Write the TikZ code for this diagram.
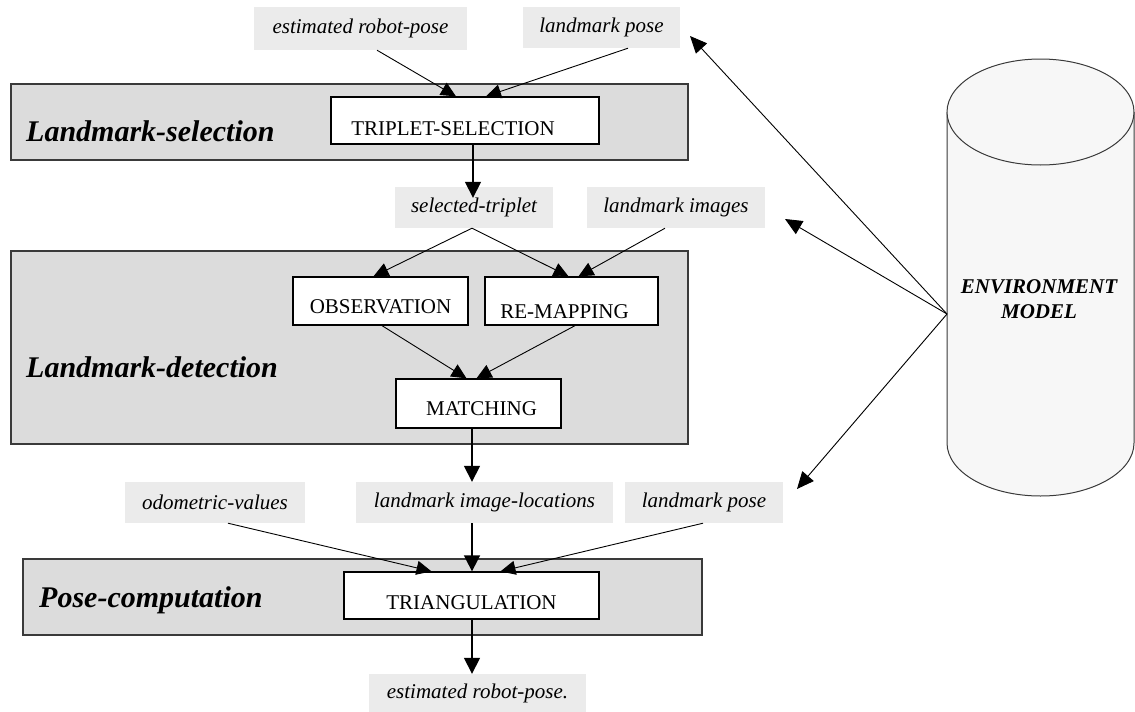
\documentclass[tikz,border=0pt]{standalone}
\usepackage{fontspec}
\setmainfont{Liberation Serif}
\usetikzlibrary{arrows.meta,calc}
\definecolor{stagefill}{HTML}{DCDCDC}
\definecolor{stageline}{HTML}{3A3A3A}
\definecolor{tagfill}{HTML}{EBEBEB}
\definecolor{drumfill}{HTML}{F7F7F7}
% shift the contents of a box without changing its size
\newcommand{\nudge}[3]{\raisebox{#2}[\height][\depth]{\hspace*{#1}#3\hspace*{-#1}}}

\begin{document}
\begin{tikzpicture}[x=1pt,y=-1pt,
  stage/.style={draw=stageline, line width=1.6pt, fill=stagefill, inner sep=0pt},
  stagetitle/.style={font=\fontsize{30}{34}\selectfont\bfseries\itshape, inner sep=0pt, anchor=base west},
  procbox/.style={draw=black, line width=1.3pt, fill=white, inner sep=0pt,
                  font=\fontsize{21}{24}\selectfont},
  tag/.style={fill=tagfill, inner sep=0pt, font=\fontsize{21}{24}\selectfont\itshape},
  flow/.style={line width=0.9pt, -{Triangle[length=15pt,width=14pt]}},
  mainflow/.style={line width=1.6pt, -{Triangle[length=16pt,width=16pt]}},
  envflow/.style={line width=0.9pt, -{Triangle[length=17pt,width=15pt]}},
]
\useasboundingbox (0,0) rectangle (1135,712);

% processing stages
\node[stage, minimum width=677pt, minimum height=76pt]  (selstage) at (349.5,122)   {};
\node[stage, minimum width=677pt, minimum height=193pt] (detstage) at (349.5,347.5) {};
\node[stage, minimum width=679pt, minimum height=76pt]  (posestage) at (362.5,597)  {};

\node[stagetitle] (seltitle)  at (26,141) {Landmark-selection};
\node[stagetitle] (dettitle)  at (26,377) {Landmark-detection};
\node[stagetitle] (posetitle) at (39,607) {Pose-computation};

% process boxes
\node[procbox, minimum width=268pt, minimum height=47pt] (triplet) at (465,120.5)   {\nudge{-12pt}{-8pt}{TRIPLET-SELECTION}};
\node[procbox, minimum width=175pt, minimum height=48pt] (obs)     at (380.5,301)   {\nudge{0pt}{-6pt}{OBSERVATION}};
\node[procbox, minimum width=173pt, minimum height=48pt] (remap)   at (571.5,301)   {\nudge{-7pt}{-11pt}{RE-MAPPING}};
\node[procbox, minimum width=165pt, minimum height=49pt] (match)   at (478.5,403.5) {\nudge{3pt}{-5.5pt}{MATCHING}};
\node[procbox, minimum width=255pt, minimum height=47pt] (tri)     at (471.5,595.5) {\nudge{0pt}{-7.5pt}{TRIANGULATION}};

% data items
\node[tag, minimum width=213pt, minimum height=43pt] (est1)    at (360.5,28.5)  {estimated robot-pose};
\node[tag, minimum width=157pt, minimum height=41pt] (lpose1)  at (601.5,27.5)  {landmark pose};
\node[tag, minimum width=158pt, minimum height=41pt] (seltrip) at (474,207.5)   {selected-triplet};
\node[tag, minimum width=178pt, minimum height=41pt] (limg)    at (676,207.5)   {landmark images};
\node[tag, minimum width=180pt, minimum height=41pt] (odo)     at (215,502.5)   {odometric-values};
\node[tag, minimum width=257pt, minimum height=41pt] (lil)     at (484.5,502.5) {landmark image-locations};
\node[tag, minimum width=158pt, minimum height=41pt] (lpose2)  at (704,502.5)   {landmark pose};
\node[tag, minimum width=217pt, minimum height=38pt] (est2)    at (477.5,693)   {estimated robot-pose.};

% environment model store
\filldraw[fill=drumfill, draw=stageline, line width=1pt]
  (947,112) -- (947,443)
  .. controls (947,472.3) and (988.9,496) .. (1040.5,496)
  .. controls (1092.1,496) and (1134,472.3) .. (1134,443) -- (1134,112);
\filldraw[fill=drumfill, draw=stageline, line width=1pt]
  (1040.5,112) ellipse [x radius=93.5, y radius=53];
\node[font=\fontsize{21}{25}\selectfont\bfseries\itshape, align=center, inner sep=0pt]
  (env) at (1039,299) {ENVIRONMENT\\MODEL};

% landmark selection
\draw[flow] ($(est1.south)+(16.5,0)$)   -- ($(triplet.north)+(-9,0)$);
\draw[flow] ($(lpose1.south)+(26.5,0)$) -- ($(triplet.north)+(21,0)$);
\draw[mainflow] ($(triplet.south)+(8,0)$) -- ($(seltrip.north)+(-1,11)$);

% landmark detection
\draw[flow] ($(seltrip.south)+(-2,0)$) -- ($(obs.north)+(-7,0)$);
\draw[flow] ($(seltrip.south)+(-2,0)$) -- ($(remap.north)+(-3,0)$);
\draw[flow] ($(limg.south)+(-11,0)$)   -- ($(remap.north)+(7,0)$);
\draw[flow] ($(obs.south)+(1.5,0)$)    -- ($(match.north)+(-12,0)$);
\draw[flow] ($(remap.south)+(3.5,0)$)  -- ($(match.north)+(-2,0)$);
\draw[mainflow] ($(match.south)+(-6.5,0)$) -- ($(lil.north)+(-12.5,0)$);

% pose computation
\draw[flow] ($(odo.south)+(13,0)$)     -- ($(tri.north)+(-40,0)$);
\draw[mainflow] ($(lil.south)+(-12.5,0)$) -- ($(tri.north)+(0.5,0)$);
\draw[flow] ($(lpose2.south)+(-1,0)$)  -- ($(tri.north)+(29,0)$);
\draw[mainflow] ($(tri.south)+(0.5,0)$) -- ($(est2.north)+(-5.5,0)$);

% links from the environment model
\coordinate (envport) at (947,314);
\coordinate (toposeA)  at (690,36);
\coordinate (toimages) at (785,219);
\coordinate (toposeB)  at (797,489);
\draw[envflow] (envport) -- (toposeA);
\draw[envflow] (envport) -- (toimages);
\draw[envflow] (envport) -- (toposeB);
\end{tikzpicture}
\end{document}
